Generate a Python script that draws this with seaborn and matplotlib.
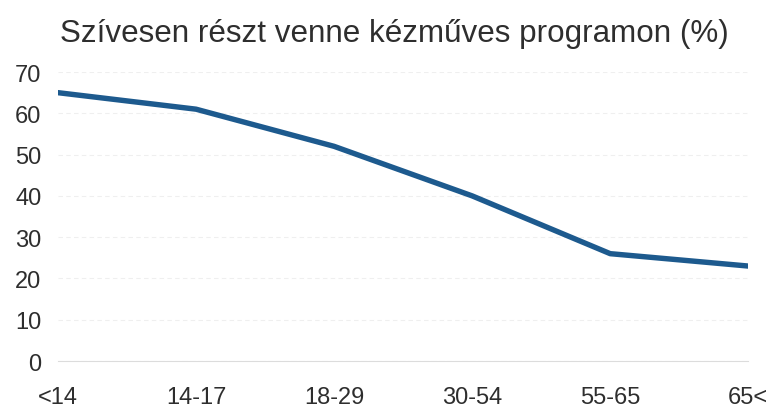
import numpy as np
import pandas as pd
import matplotlib
matplotlib.use("Agg")
import matplotlib.pyplot as plt
import seaborn as sns


age_groups = ['<14', '14-17', '18-29', '30-54', '55-65', '65<']
share = [65, 61, 52, 40, 26, 23]
y_ticks = [0, 10, 20, 30, 40, 50, 60, 70]
title = 'Szívesen részt venne kézműves programon (%)'


def make_plot():
    data = pd.DataFrame({'age': age_groups, 'share': share})

    sns.set_style('white')
    plt.rcParams['font.family'] = ['Liberation Sans', 'DejaVu Sans']

    fig = plt.figure(figsize=(7.73, 4.14), dpi=100)
    ax = fig.add_axes([0.075, 0.1256, 0.893, 0.698])

    sns.lineplot(data=data, x='age', y='share', sort=False,
                 color='#1d5a8e', linewidth=3.9, ax=ax)

    ax.set_ylim(0, 70)
    ax.set_xlim(0, len(age_groups) - 1)
    ax.set_yticks(y_ticks)
    ax.yaxis.grid(True, color='#efefef', linewidth=0.8, linestyle=(0, (4, 3)))
    ax.set_axisbelow(True)
    for side in ['top', 'right', 'left']:
        ax.spines[side].set_visible(False)
    ax.spines['bottom'].set_color('#dcdcdc')
    ax.spines['bottom'].set_linewidth(0.8)

    ax.tick_params(axis='both', length=0, labelsize=17, colors='#2e2e2e')
    ax.tick_params(axis='y', pad=12)
    ax.tick_params(axis='x', pad=18)
    ax.set_xlabel('')
    ax.set_ylabel('')

    fig.text(0.51, 0.918, title, ha='center', va='center',
             fontsize=22.6, color='#2e2e2e')

    fig.savefig('out.png', dpi=100)
    plt.close(fig)


make_plot()
